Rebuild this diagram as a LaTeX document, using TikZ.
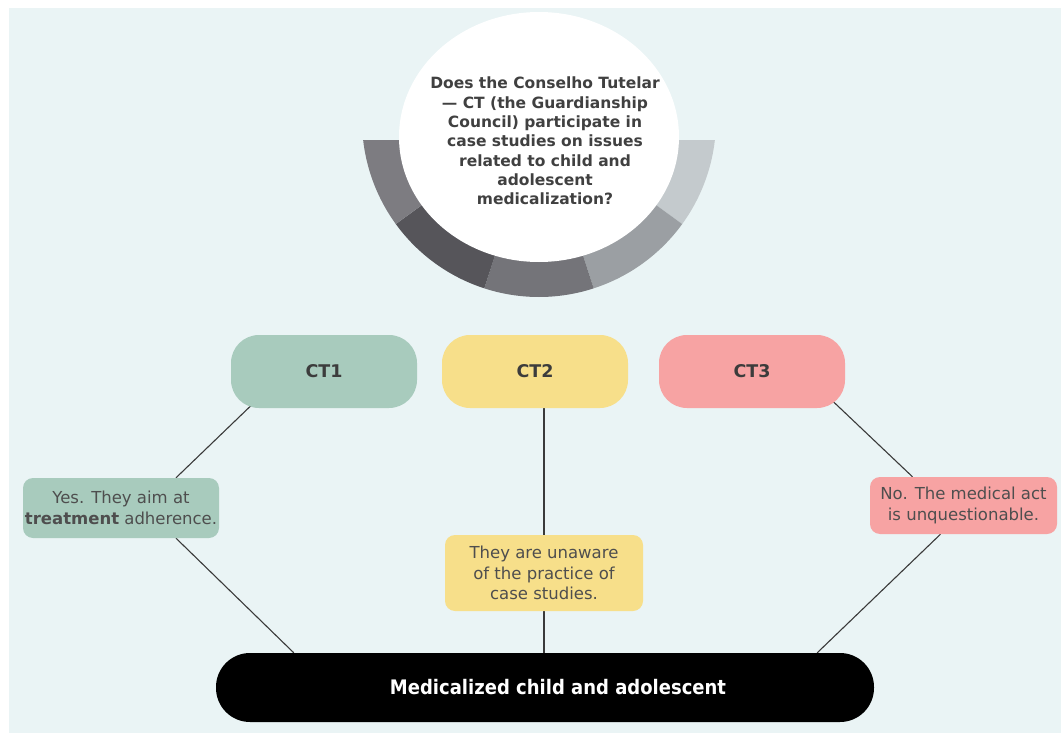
\documentclass[tikz,border=0pt]{standalone}
\usepackage{fontspec}
\usepackage{graphicx}
\setmainfont{DejaVu Sans}
\usetikzlibrary{shapes.geometric,calc}
\definecolor{bgc}{RGB}{234,244,245}
\definecolor{segR}{RGB}{196,202,205}
\definecolor{segRM}{RGB}{155,159,163}
\definecolor{segB}{RGB}{116,116,121}
\definecolor{segLM}{RGB}{86,85,90}
\definecolor{segL}{RGB}{125,124,129}
\definecolor{ctgreen}{RGB}{168,203,189}
\definecolor{ctyellow}{RGB}{247,223,138}
\definecolor{ctpink}{RGB}{247,163,163}
\definecolor{qtextc}{RGB}{64,64,64}
\definecolor{ctextc}{RGB}{60,60,60}
\definecolor{atextc}{RGB}{78,78,78}
\definecolor{linec}{RGB}{58,58,58}
\pgfdeclarelayer{bglayer}
\pgfdeclarelayer{lines}
\pgfsetlayers{bglayer,lines,main}
\begin{document}
\begin{tikzpicture}[x=1pt,y=-1pt,
  ctbox/.style={rounded corners=28pt, minimum width=186pt, minimum height=73pt, inner sep=0pt,
    font=\bfseries\fontsize{17.5}{20}\selectfont, text=ctextc},
  ansbox/.style={rounded corners=10pt, inner sep=0pt, align=center,
    font=\fontsize{16.5}{20.5}\selectfont, text=atextc},
  conn/.style={draw=linec, line width=1.1pt},
  qtextstyle/.style={align=center, inner sep=0pt, text=qtextc,
    font=\bfseries\fontsize{15.5}{19.3}\selectfont},
  pillstyle/.style={fill=black, rounded corners=34pt, minimum width=658pt, minimum height=69pt,
    inner sep=0pt, text=white, font=\bfseries\fontsize{20}{24}\selectfont}
]
\useasboundingbox (0,0) rectangle (1061,733);
\begin{pgfonlayer}{bglayer}
\fill[bgc] (9,8) rectangle (1061,733);
\end{pgfonlayer}

% half ring
\begin{scope}
\clip (340,141) rectangle (740,310);
\foreach \a/\b/\c in {0/36/segR,36/72/segRM,72/108/segB,108/144/segLM,144/180/segL}{
  \fill[\c] ($(539,120)+(\a:177)$) arc[start angle=\a, end angle=\b, radius=177]
    -- ($(539,120)+(\b:120)$) arc[start angle=\b, end angle=\a, radius=120] -- cycle;
}
\end{scope}

% question ellipse
\node[ellipse, fill=white, minimum width=280pt, minimum height=250pt, inner sep=0pt] (q) at (539,137) {};
\node[qtextstyle] (qt) at (545,141) {Does the Conselho Tutelar\\— CT (the Guardianship\\Council) participate in\\case studies on issues\\related to child and\\adolescent\\medicalization?};

% CT boxes
\node[ctbox, fill=ctgreen] (ct1) at (324,371.5) {CT1};
\node[ctbox, fill=ctyellow] (ct2) at (535,371.5) {CT2};
\node[ctbox, fill=ctpink] (ct3) at (752,371.5) {CT3};

% answers
\node[ansbox, fill=ctgreen, minimum width=196pt, minimum height=60pt] (yes) at (121,508)
  {Yes. They aim at\\{\bfseries treatment} adherence.};
\node[ansbox, fill=ctyellow, minimum width=198pt, minimum height=76pt] (un) at (544,573)
  {They are unaware\\of the practice of\\case studies.};
\node[ansbox, fill=ctpink, minimum width=187pt, minimum height=57pt] (no) at (963.5,505.5)
  {No. The medical act\\is unquestionable.};

% result pill
\node[pillstyle] (pill) at (545,687.5) {\hspace*{26pt}\scalebox{0.9}[1]{Medicalized child and adolescent}};

% connectors
\begin{pgfonlayer}{lines}
\draw[conn] ($(ct1.south west)+(31,-13)$) -- ($(yes.north)+(55,0)$);
\draw[conn] ($(yes.south)+(55,0)$) -- ($(pill.north west)+(78,0)$);
\draw[conn] (un.north) -- (un.north |- ct2.south);
\draw[conn] (un.south) -- (un.south |- pill.north);
\draw[conn] ($(ct3.south east)+(-24,-18)$) -- ($(no.north)+(-51,0)$);
\draw[conn] ($(no.south)+(-23,0)$) -- ($(pill.north east)+(-57,0)$);
\end{pgfonlayer}
\end{tikzpicture}
\end{document}
